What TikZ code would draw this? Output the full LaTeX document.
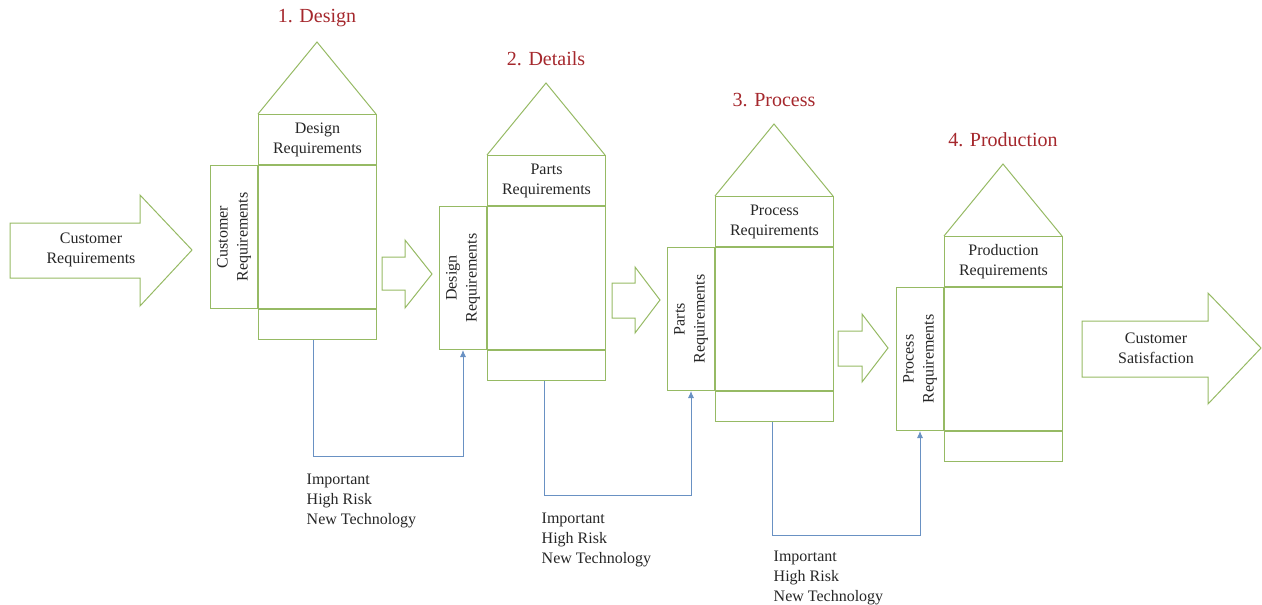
\documentclass[tikz,border=0pt]{standalone}
\usepackage{fontspec}
\setmainfont{Liberation Serif}
\usetikzlibrary{positioning,arrows.meta}

\definecolor{qgreen}{RGB}{150,186,100}
\definecolor{qblue}{RGB}{105,145,195}
\definecolor{qred}{RGB}{165,40,45}

\begin{document}
\begin{tikzpicture}[x=1pt,y=-1pt,
	box/.style={draw=qgreen, line width=1pt, inner sep=0pt, minimum width=118pt, align=center, text=black!85, font=\fontsize{16}{20}\selectfont},
	side/.style={box, minimum width=47pt, minimum height=143pt},
	outline/.style={draw=qgreen, line width=1pt, line join=miter},
	reqtext/.style={align=center, inner sep=0pt, text=black!85, font=\fontsize{16}{20}\selectfont},
	risk/.style={align=left, inner sep=0pt, anchor=north west, text=black!85, font=\fontsize{16}{20}\selectfont},
	stagetitle/.style={text=qred, font=\fontsize{20}{24}\selectfont},
	fb/.style={draw=qblue, line width=0.9pt, -{Latex[length=7pt,width=6pt]}}]
	\useasboundingbox (0,0) rectangle (1262,605);

	% houses
	\foreach \i/\x/\y/\ttl/\tp/\sd in {1/258/114/1. Design/Design/Customer,
			2/487/155/2. Details/Parts/Design,
			3/715/196/3. Process/Process/Parts,
			4/944/236/4. Production/Production/Process}{
		\draw[outline] (\x,\y) -- (\x+59,\y-72) -- (\x+118,\y);
		\node[stagetitle] (ttl\i) at (\x+59,\y-96) {\ttl};
		\node[box, minimum height=50pt, anchor=north west] (top\i) at (\x,\y) {\tp\\Requirements};
		\node[box, minimum height=143pt, anchor=north] (body\i) at (top\i.south) {};
		\node[box, minimum height=30pt, anchor=north] (bot\i) at (body\i.south) {};
		\node[side, anchor=north east] (lft\i) at (body\i.north west) {};
		\node[reqtext, rotate=90] (lt\i) at (lft\i.center) {\sd\\Requirements};
	}

	% big arrows
	\draw[outline] (10,223) -- (140,223) -- (140,195) -- (192,250) -- (140,306) -- (140,278) -- (10,278) -- cycle;
	\node[reqtext] (cr) at (91,250) {Customer\\Requirements};
	\draw[outline] (1082,321) -- (1208,321) -- (1208,293) -- (1261,348) -- (1208,404) -- (1208,377) -- (1082,377) -- cycle;
	\node[reqtext] (cs) at (1156,348) {Customer\\Satisfaction};

	% small arrows
	\draw[outline] (382,257) -- (405,257) -- (405,240) -- (432,274) -- (405,308) -- (405,290) -- (382,290) -- cycle;
	\draw[outline] (612,283) -- (635,283) -- (635,267) -- (660,300) -- (635,333) -- (635,318) -- (612,318) -- cycle;
	\draw[outline] (838,331) -- (862,331) -- (862,314) -- (888,348) -- (862,382) -- (862,366) -- (838,366) -- cycle;

	% feedback
	\draw[fb] ([xshift=-4pt]bot1.south) -- ++(0,116) coordinate (c1) -| (lft2.south);
	\draw[fb] ([xshift=-2pt]bot2.south) -- ++(0,114) coordinate (c2) -| (lft3.south);
	\draw[fb] ([xshift=-2pt]bot3.south) -- ++(0,113) coordinate (c3) -| (lft4.south);
	\node[risk] (imp1) at ([xshift=-7pt,yshift=-18pt]c1) {Important\\High Risk\\New Technology};
	\node[risk] (imp2) at ([xshift=-3pt,yshift=-18pt]c2) {Important\\High Risk\\New Technology};
	\node[risk] (imp3) at ([xshift=1pt,yshift=-16pt]c3) {Important\\High Risk\\New Technology};
\end{tikzpicture}
\end{document}
